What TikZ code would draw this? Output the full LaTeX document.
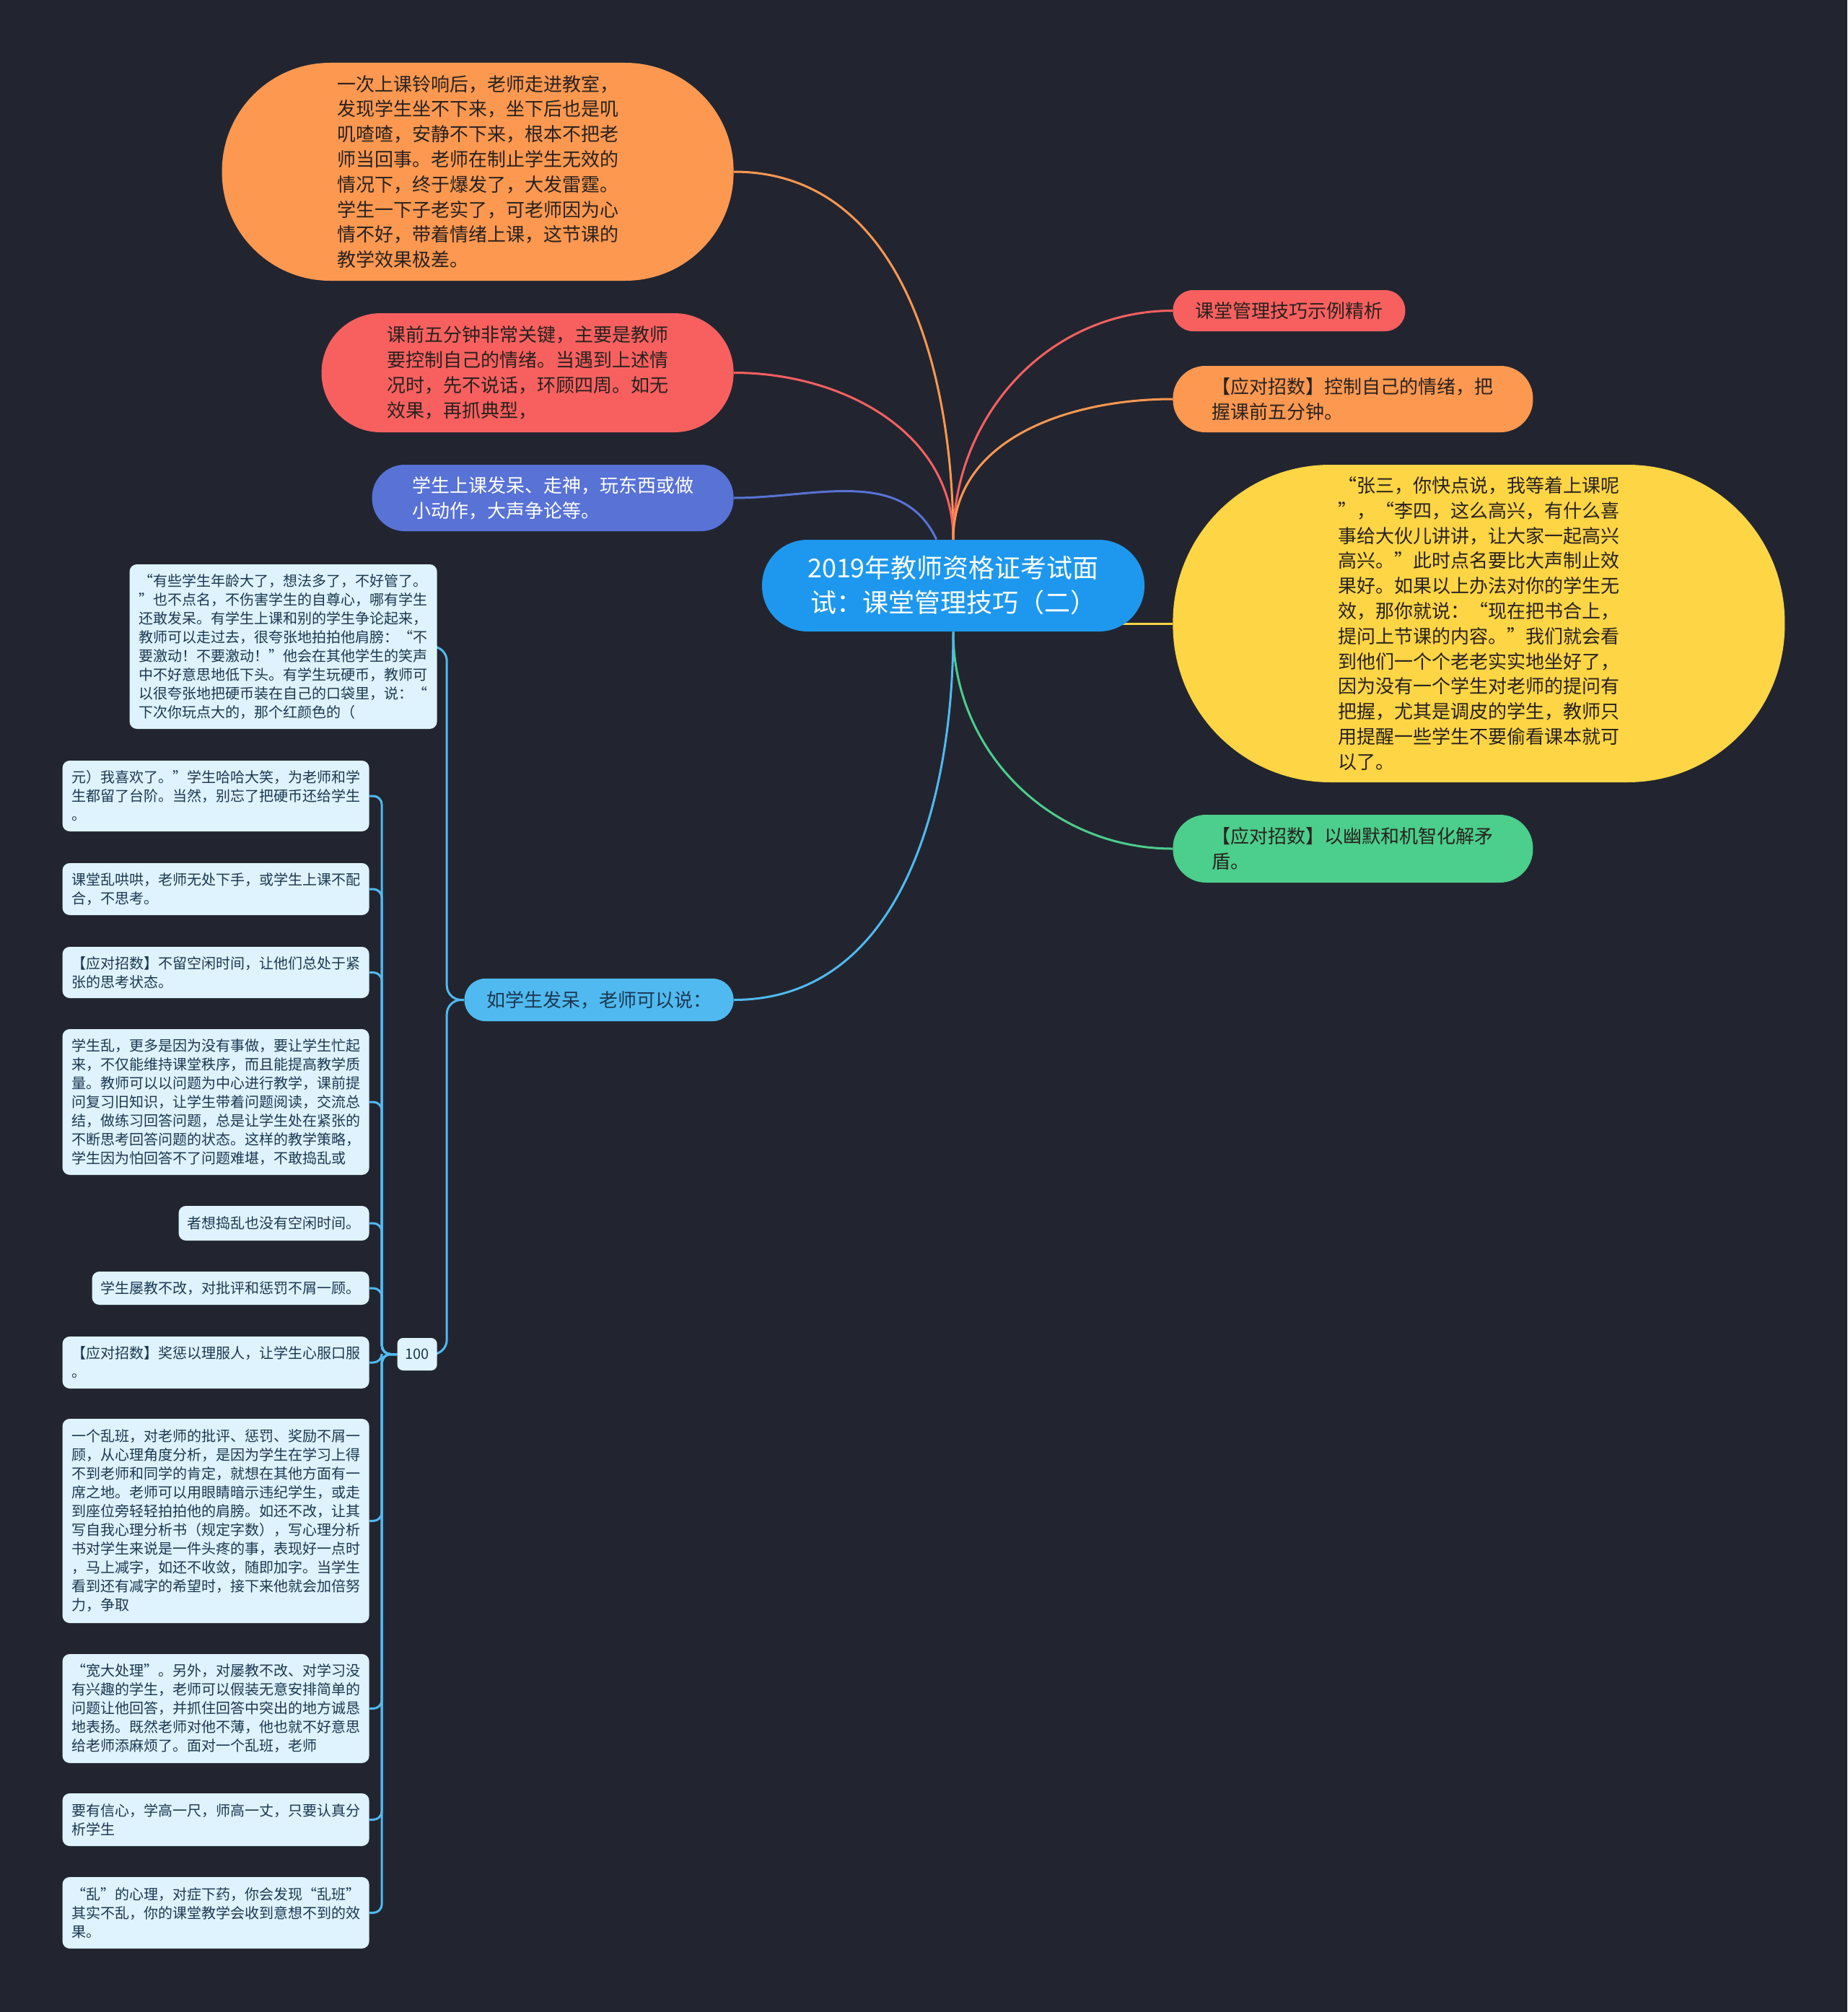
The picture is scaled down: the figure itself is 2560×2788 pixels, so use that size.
\documentclass[tikz,border=0pt]{standalone}
\usepackage{fontspec}
\setmainfont{Noto Sans CJK SC}
\usepackage{tikz}
\usetikzlibrary{backgrounds}
\definecolor{bgdark}{RGB}{34,37,48}
\definecolor{rootblue}{RGB}{30,152,238}
\definecolor{storyorange}{RGB}{253,152,80}
\definecolor{calmred}{RGB}{248,96,96}
\definecolor{symptomblue}{RGB}{88,114,214}
\definecolor{namingyellow}{RGB}{254,213,68}
\definecolor{humorgreen}{RGB}{76,206,140}
\definecolor{askblue}{RGB}{80,186,240}
\definecolor{leaffill}{RGB}{222,243,253}
\definecolor{leafink}{RGB}{28,56,82}
\definecolor{bubbleink}{RGB}{40,34,30}
\newcommand{\leaffont}{\fontsize{10}{13}\selectfont}
\newcommand{\bubblefont}{\fontsize{13}{17.4}\selectfont}
\newcommand{\rootfont}{\fontsize{18}{24}\selectfont}

\begin{document}
\begin{tikzpicture}[x=0.5pt,y=-0.5pt,
  bubble/.style={align=left,inner sep=0pt,font=\bubblefont,text=bubbleink},
  leaf/.style={fill=leaffill,text=leafink,rounded corners=5pt,align=left,
    inner xsep=6pt,inner ysep=0pt,font=\leaffont,anchor=east},
  link/.style={line width=1.5pt}]
  \useasboundingbox (0,0) rectangle (2560,2788);

  % centre
  \node[align=center,inner sep=0pt,font=\rootfont,text=white,fill=rootblue,
    rounded corners=31.5pt,minimum width=265pt,minimum height=63.5pt]
    (root) at (1321,811.5) {2019年教师资格证考试面\\试：课堂管理技巧（二）};

  % left branches
  \node[bubble,fill=storyorange,rounded corners=75pt,minimum width=354.5pt,
    minimum height=151pt,anchor=east] (story) at (1017,238)
    {一次上课铃响后，老师走进教室，\\发现学生坐不下来，坐下后也是叽\\叽喳喳，安静不下来，根本不把老\\师当回事。老师在制止学生无效的\\情况下，终于爆发了，大发雷霆。\\学生一下子老实了，可老师因为心\\情不好，带着情绪上课，这节课的\\教学效果极差。};
  \node[bubble,fill=calmred,rounded corners=41pt,minimum width=285.5pt,
    minimum height=82.5pt,anchor=east] (calm) at (1017,516.5)
    {课前五分钟非常关键，主要是教师\\要控制自己的情绪。当遇到上述情\\况时，先不说话，环顾四周。如无\\效果，再抓典型，};
  \node[bubble,fill=symptomblue,text=white,rounded corners=22.5pt,
    minimum width=250.5pt,minimum height=46pt,anchor=east] (symptom) at (1017,690)
    {学生上课发呆、走神，玩东西或做\\小动作，大声争论等。};
  \node[bubble,fill=askblue,text=leafink,rounded corners=14.5pt,
    minimum width=186.5pt,minimum height=29.5pt,anchor=east] (ask) at (1017,1385.5)
    {如学生发呆，老师可以说：};

  % right branches
  \node[bubble,fill=calmred,rounded corners=14pt,minimum width=161pt,
    minimum height=28.5pt,anchor=west] (title) at (1625,430.5)
    {课堂管理技巧示例精析};
  \node[bubble,fill=storyorange,rounded corners=22.5pt,minimum width=249.5pt,
    minimum height=46pt,anchor=west] (tipcalm) at (1625,553)
    {【应对招数】控制自己的情绪，把\\握课前五分钟。};
  \node[bubble,fill=namingyellow,rounded corners=109pt,minimum width=424pt,
    minimum height=220pt,anchor=west] (naming) at (1625,864)
    { “张三，你快点说，我等着上课呢\\”，“李四，这么高兴，有什么喜\\事给大伙儿讲讲，让大家一起高兴\\高兴。”此时点名要比大声制止效\\果好。如果以上办法对你的学生无\\效，那你就说：“现在把书合上，\\提问上节课的内容。”我们就会看\\到他们一个个老老实实地坐好了，\\因为没有一个学生对老师的提问有\\把握，尤其是调皮的学生，教师只\\用提醒一些学生不要偷看课本就可\\以了。};
  \node[bubble,fill=humorgreen,rounded corners=23pt,minimum width=249.5pt,
    minimum height=47pt,anchor=west] (tiphumor) at (1625,1176)
    {【应对招数】以幽默和机智化解矛\\盾。};

  % leaves under the ask node
  \node[leaf,minimum width=213pt,minimum height=114pt] (advice) at (606,896)
    {“有些学生年龄大了，想法多了，不好管了。\\”也不点名，不伤害学生的自尊心，哪有学生\\还敢发呆。有学生上课和别的学生争论起来，\\教师可以走过去，很夸张地拍拍他肩膀：“不\\要激动！不要激动！”他会在其他学生的笑声\\中不好意思地低下头。有学生玩硬币，教师可\\以很夸张地把硬币装在自己的口袋里，说：“\\下次你玩点大的，那个红颜色的（};
  \node[leaf,font=\leaffont,minimum width=27.5pt,minimum height=22.5pt,
    inner xsep=0pt,align=center,rounded corners=4pt] (hundred) at (606,1876.5) {100};

  \node[leaf,minimum width=212.5pt,minimum height=49pt] (coin) at (512,1103)
    {元）我喜欢了。”学生哈哈大笑，为老师和学\\生都留了台阶。当然，别忘了把硬币还给学生\\。};
  \node[leaf,minimum width=212.5pt,minimum height=36pt] (noisy) at (512,1232)
    {课堂乱哄哄，老师无处下手，或学生上课不配\\合，不思考。};
  \node[leaf,minimum width=212.5pt,minimum height=35.5pt] (tipbusy) at (512,1347.5)
    {【应对招数】不留空闲时间，让他们总处于紧\\张的思考状态。};
  \node[leaf,minimum width=212.5pt,minimum height=101pt] (busy) at (512,1527)
    {学生乱，更多是因为没有事做，要让学生忙起\\来，不仅能维持课堂秩序，而且能提高教学质\\量。教师可以以问题为中心进行教学，课前提\\问复习旧知识，让学生带着问题阅读，交流总\\结，做练习回答问题，总是让学生处在紧张的\\不断思考回答问题的状态。这样的教学策略，\\学生因为怕回答不了问题难堪，不敢捣乱或};
  \node[leaf,minimum height=24pt] (idle) at (512,1695)
    {者想捣乱也没有空闲时间。};
  \node[leaf,minimum height=23pt] (stubborn) at (512,1785)
    {学生屡教不改，对批评和惩罚不屑一顾。};
  \node[leaf,minimum width=212.5pt,minimum height=36pt] (tipfair) at (512,1888)
    {【应对招数】奖惩以理服人，让学生心服口服\\。};
  \node[leaf,minimum width=212.5pt,minimum height=141.5pt] (chaos) at (512,2107.5)
    {一个乱班，对老师的批评、惩罚、奖励不屑一\\顾，从心理角度分析，是因为学生在学习上得\\不到老师和同学的肯定，就想在其他方面有一\\席之地。老师可以用眼睛暗示违纪学生，或走\\到座位旁轻轻拍拍他的肩膀。如还不改，让其\\写自我心理分析书（规定字数），写心理分析\\书对学生来说是一件头疼的事，表现好一点时\\，马上减字，如还不收敛，随即加字。当学生\\看到还有减字的希望时，接下来他就会加倍努\\力，争取};
  \node[leaf,minimum width=212.5pt,minimum height=75.5pt] (lenient) at (512,2367.5)
    {“宽大处理”。另外，对屡教不改、对学习没\\有兴趣的学生，老师可以假装无意安排简单的\\问题让他回答，并抓住回答中突出的地方诚恳\\地表扬。既然老师对他不薄，他也就不好意思\\给老师添麻烦了。面对一个乱班，老师};
  \node[leaf,minimum width=212.5pt,minimum height=36.5pt] (confident) at (512,2521.5)
    {要有信心，学高一尺，师高一丈，只要认真分\\析学生};
  \node[leaf,minimum width=212.5pt,minimum height=49.5pt] (remedy) at (512,2650.5)
    {“乱”的心理，对症下药，你会发现“乱班”\\其实不乱，你的课堂教学会收到意想不到的效\\果。};

  \begin{scope}[on background layer]
    \fill[bgdark] (0,0) rectangle (2560,2788);
    % connectors from the centre
    \draw[link,draw=storyorange] (root.north) to[out=90,in=0] (story.east);
    \draw[link,draw=calmred] (root.north) to[out=90,in=0] (calm.east);
    \draw[link,draw=symptomblue] (symptom.east) to[out=0,in=115] (root.110);
    \draw[link,draw=calmred] (root.north) to[out=90,in=180] (title.west);
    \draw[link,draw=storyorange] (root.north) to[out=90,in=180] (tipcalm.west);
    \draw[link,draw=namingyellow] (root.center |- naming.west) -- (naming.west);
    \draw[link,draw=humorgreen] (root.south) to[out=-90,in=180] (tiphumor.west);
    \draw[link,draw=askblue] (root.south) to[out=-90,in=0] (ask.east);
    % ask node to its two children
    \draw[link,draw=askblue,rounded corners=10pt] (ask.west) -- ++(-24,0) |- (advice.east);
    \draw[link,draw=askblue,rounded corners=10pt] (ask.west) -- ++(-24,0) |- (hundred.east);
    % hundred to the leaves
    \draw[link,draw=askblue,rounded corners=6pt] (hundred.west) -- ++(-21,0) |- (coin.east);
    \draw[link,draw=askblue,rounded corners=6pt] (hundred.west) -- ++(-21,0) |- (noisy.east);
    \draw[link,draw=askblue,rounded corners=6pt] (hundred.west) -- ++(-21,0) |- (tipbusy.east);
    \draw[link,draw=askblue,rounded corners=6pt] (hundred.west) -- ++(-21,0) |- (busy.east);
    \draw[link,draw=askblue,rounded corners=6pt] (hundred.west) -- ++(-21,0) |- (idle.east);
    \draw[link,draw=askblue,rounded corners=6pt] (hundred.west) -- ++(-21,0) |- (stubborn.east);
    \draw[link,draw=askblue,rounded corners=6pt] (hundred.west) -- ++(-21,0) |- (tipfair.east);
    \draw[link,draw=askblue,rounded corners=6pt] (hundred.west) -- ++(-21,0) |- (chaos.east);
    \draw[link,draw=askblue,rounded corners=6pt] (hundred.west) -- ++(-21,0) |- (lenient.east);
    \draw[link,draw=askblue,rounded corners=6pt] (hundred.west) -- ++(-21,0) |- (confident.east);
    \draw[link,draw=askblue,rounded corners=6pt] (hundred.west) -- ++(-21,0) |- (remedy.east);
  \end{scope}
\end{tikzpicture}
\end{document}
